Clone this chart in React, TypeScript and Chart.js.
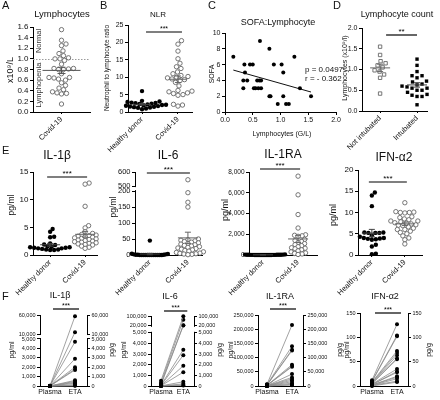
import React, { useEffect, useRef } from 'react';
import { Chart, registerables, LinearScale } from 'chart.js';

const FONT = "'Liberation Sans', Arial, Helvetica, sans-serif";

// ---------------- data ----------------
const lymphocyteCovid = [1.55, 1.35, 1.28, 1.25, 1.15, 1.1, 1.06, 1.02, 1.0, 1.0, 0.97, 0.9, 0.82, 0.82, 0.81, 0.8, 0.8, 0.72, 0.65, 0.65, 0.64, 0.62, 0.6, 0.55, 0.5, 0.45, 0.42, 0.38, 0.36, 0.35, 0.34, 0.15];
const nlrHealthy = [6.0, 3.2, 3.0, 2.9, 2.8, 2.7, 2.6, 2.5, 2.4, 2.3, 2.2, 2.1, 2.0, 2.0, 1.9, 1.8, 1.7, 1.6, 1.5, 1.4, 1.3, 1.2, 1.0, 0.8];
const nlrCovid = [20.5, 19.5, 17.5, 15.3, 14, 13, 12.5, 11.5, 11, 10.5, 10.2, 10, 9.8, 9.5, 9.3, 9, 8.5, 7.5, 6.2, 6, 5.8, 5.5, 5.3, 5, 4.8, 2.2, 2, 1.7];
const sofaLymph = [0.15, 0.35, 0.36, 0.33, 0.33, 0.4, 0.45, 0.5, 0.52, 0.55, 0.58, 0.6, 0.62, 0.65, 0.65, 0.63, 0.8, 0.8, 0.82, 0.88, 0.95, 1.02, 1.05, 1.05, 1.1, 1.15, 1.25, 1.35, 1.55];
const sofaScore = [7, 6, 5, 4, 3, 4, 6, 6, 3, 3, 4, 3, 4, 3, 4, 9, 8, 2, 2, 6, 1, 6, 5, 2, 1, 1, 7, 3, 2];
const sofaStats = ['p = 0.0497', 'r = - 0.362'];
const lymphNotIntubated = [1.55, 1.35, 1.2, 1.15, 1.1, 1.05, 0.98, 0.95, 0.88, 0.8, 0.42];
const lymphIntubated = [1.25, 1.1, 0.95, 0.85, 0.85, 0.8, 0.72, 0.7, 0.65, 0.63, 0.6, 0.6, 0.58, 0.55, 0.55, 0.5, 0.5, 0.45, 0.4, 0.38, 0.35, 0.35, 0.15];

const il1bHealthy = [4.7, 4.2, 3.3, 3.2, 2.1, 1.9, 1.8, 1.6, 1.5, 1.4, 1.4, 1.3, 1.3, 1.2, 1.2, 1.1, 1.0, 1.0, 0.9, 0.9];
const il1bCovid = [13.0, 12.8, 8.8, 5.3, 4.9, 4.2, 3.9, 3.7, 3.6, 3.5, 3.4, 3.3, 3.2, 3.1, 3.0, 2.9, 2.8, 2.7, 2.6, 2.5, 2.4, 2.3, 2.2, 2.1, 2.0, 1.9, 1.8, 1.6, 1.4, 1.2];
const il6Healthy = [45, 4, 3, 2, 2, 1, 1, 1, 0, 0, 0, 0, 0, 0, 0, 0, 0, 0, 0, 0];
const il6Covid = [545, 195, 165, 150, 50, 48, 46, 44, 42, 40, 38, 36, 34, 32, 30, 28, 26, 24, 22, 20, 18, 16, 14, 12, 10, 8, 6, 5, 4, 3, 2, 1];
const il1raHealthy = [60, 50, 40, 40, 30, 30, 20, 20, 20, 10, 10, 10, 10, 5, 5, 5, 0, 0, 0, 0, 0, 0];
const il1raCovid = [7600, 5800, 3900, 2600, 1950, 1900, 1850, 1800, 1500, 1400, 1300, 1200, 1100, 1000, 900, 800, 700, 650, 600, 500, 400, 300, 200, 150, 100, 50];
const ifnHealthy = [14.7, 14.0, 11.5, 5.3, 5.3, 5.2, 5.2, 5.2, 4.6, 4.3, 4.0, 4.0, 3.9, 3.8, 3.7, 3.6, 2.4, 2.0, 0.3, 0.2];
const ifnCovid = [12.3, 10.2, 10.1, 10.0, 10.0, 9.9, 9.0, 8.8, 8.5, 8.3, 8.0, 8.0, 7.8, 7.6, 7.5, 7.3, 7.1, 7.0, 6.9, 6.6, 6.3, 6.0, 6.0, 5.6, 5.3, 5.0, 4.5, 4.0, 3.6, 2.6];

const il1bPlasma = [20, 15, 10, 10, 5, 5, 5, 5, 0, 0, 0, 0, 0, 0];
const il1bEta = [57000, 15000, 4700, 2900, 2000, 1800, 1700, 600, 500, 400, 300, 150, 50, 20];
const il6Plasma = [500, 300, 200, 100, 80, 50, 30, 20, 10, 5, 0, 0];
const il6Eta = [97000, 70000, 25000, 22000, 3400, 2900, 1900, 1300, 400, 200, 100, 50];
const il1raPlasma = [6000, 5000, 4000, 3000, 2500, 2000, 1500, 1000, 800, 500, 300, 200, 100, 50, 0];
const il1raEta = [215000, 140000, 128000, 125000, 75000, 70000, 68000, 42000, 30000, 25000, 20000, 15000, 10000, 6000, 3000];
const ifnPlasma = [12, 10, 9, 8, 7, 6, 5, 5, 4, 3, 3, 2, 2, 1, 1, 0];
const ifnEta = [127, 104, 102, 72, 68, 63, 57, 55, 35, 30, 28, 20, 18, 15, 10, 8];

const groupLabels = ['Healthy donor', 'Covid-19'];
const covidLabel = ['Covid-19'];
const intubLabels = ['Not intubated', 'Intubated'];
const pairLabels = ['Plasma', 'ETA'];

const ticksA = [0, 0.2, 0.4, 0.6, 0.8, 1.0, 1.2, 1.4, 1.6];
const ticksB = [0, 5, 10, 15, 20, 25];
const ticksCx = [0, 0.5, 1.0, 1.5, 2.0];
const ticksCy = [0, 2, 4, 6, 8, 10];
const ticksD = [0, 0.5, 1.0, 1.5, 2.0];
const ticksE1 = [0, 5, 10, 15];
const ticksE6 = [0, 50, 100, 150, 200, 500, 600];
const ticksERA = [0, 2000, 4000, 6000, 8000];
const ticksEIFN = [0, 5, 10, 15, 20];
const ticksF1 = [0, 1000, 2000, 3000, 4000, 5000, 10000, 60000];
const ticksF6 = [0, 1000, 2000, 3000, 4000, 5000, 20000, 100000];
const ticksFRA = [0, 50000, 100000, 150000, 200000, 250000];
const ticksFIFN = [0, 50, 100, 150];

// axis breaks: [valueFrom, valueTo, fracFrom, fracTo]
const BREAKS: Record<string, number[][]> = {
  e6: [[0, 200, 0, 0.77], [500, 600, 0.83, 1]],
  f1: [[0, 5000, 0, 0.662], [10000, 60000, 0.732, 1]],
  f6: [[0, 5000, 0, 0.76], [20000, 100000, 0.86, 1]],
};

function brokenFrac(v: number, segs: number[][]) {
  for (let i = 0; i < segs.length; i++) {
    const [v0, v1, f0, f1] = segs[i];
    if (v <= v1 || i === segs.length - 1) {
      if (v < v0) return f0;
      return f0 + ((v - v0) / (v1 - v0)) * (f1 - f0);
    }
  }
  return 1;
}

class BrokenScale extends LinearScale {
  static id = 'broken';
  static defaults = {};
  getPixelForValue(value: any) {
    if (value === null || value === undefined || Number.isNaN(value)) return NaN;
    const segs = BREAKS[(this.options as any).brk];
    return this.getPixelForDecimal(brokenFrac(value, segs));
  }
}

Chart.register(...registerables, BrokenScale as any);
Chart.defaults.font.family = FONT;
Chart.defaults.color = '#111';

// ---------------- helpers ----------------
const fx1 = (v: number) => v.toFixed(1);
const fint = (v: number) => String(v);
const fcomma = (v: number) => v.toLocaleString('en-US');

function yFrac(v: number, y: any) {
  if (y.brk) return brokenFrac(v, BREAKS[y.brk]);
  return (v - y.min) / (y.max - y.min);
}

function swarm(vals: number[], center: number, spec: any, sep: number) {
  const box = spec.box;
  const kx = (box.x1 - box.x0) / (spec.xMax - spec.xMin);
  const h = box.y1 - box.y0;
  const order = vals.map((_, i) => i).sort((a, b) => vals[a] - vals[b]);
  const placed: any[] = [];
  const out: any[] = new Array(vals.length);
  for (const i of order) {
    const py = yFrac(vals[i], spec.y) * h;
    let dx = 0;
    for (let k = 0; k < 600; k++) {
      const c = k === 0 ? 0 : (k % 2 ? 1 : -1) * Math.ceil(k / 2) * 0.5;
      if (placed.every((p) => (p.dx - c) ** 2 + (p.py - py) ** 2 >= sep * sep)) { dx = c; break; }
    }
    placed.push({ dx, py });
    out[i] = { x: center + dx / kx, y: vals[i] };
  }
  return out;
}

function dotSet(vals: number[], center: number, spec: any, o: any) {
  return {
    type: 'scatter',
    data: swarm(vals, center, spec, o.sep || 4.4),
    pointStyle: o.style || 'circle',
    pointRadius: o.r || 2.2,
    pointBackgroundColor: o.filled ? '#000' : '#fff',
    pointBorderColor: o.filled ? '#000' : '#666',
    pointBorderWidth: o.filled ? 0 : 0.9,
    showLine: false,
    clip: false,
  };
}

function pairSets(plasma: number[], eta: number[]) {
  return plasma.map((p, i) => ({
    type: 'scatter',
    showLine: true,
    data: [{ x: 0, y: p }, { x: 1, y: eta[i] }],
    borderColor: '#8a8a8a',
    borderWidth: 0.8,
    pointRadius: 2,
    pointBackgroundColor: '#000',
    pointBorderWidth: 0,
    clip: false,
  }));
}

function decoPlugin(d: any) {
  return {
    id: 'deco',
    beforeDatasetsDraw(chart: any) {
      if (d.refY === undefined) return;
      const ctx = chart.ctx, ys = chart.scales.y, ca = chart.chartArea;
      const py = Math.round(ys.getPixelForValue(d.refY)) + 0.5;
      ctx.save();
      ctx.strokeStyle = '#9a9a9a'; ctx.lineWidth = 1; ctx.setLineDash([1.5, 1.5]);
      ctx.beginPath(); ctx.moveTo(ca.left, py); ctx.lineTo(ca.right, py); ctx.stroke();
      ctx.restore();
    },
    afterDatasetsDraw(chart: any) {
      const ctx = chart.ctx, xs = chart.scales.x, ys = chart.scales.y;
      ctx.save();
      for (const g of d.stats || []) {
        const vals: number[] = g.values;
        const n = vals.length;
        const m = vals.reduce((a, b) => a + b, 0) / n;
        const sd = Math.sqrt(vals.reduce((a, b) => a + (b - m) ** 2, 0) / (n - 1));
        const sem = sd / Math.sqrt(n);
        const cx = xs.getPixelForValue(g.x);
        const pm = ys.getPixelForValue(m), pt = ys.getPixelForValue(m + sem), pb = ys.getPixelForValue(Math.max(m - sem, 0));
        ctx.strokeStyle = g.color || '#555'; ctx.lineWidth = 1;
        ctx.beginPath();
        ctx.moveTo(cx - g.hw, pm); ctx.lineTo(cx + g.hw, pm);
        ctx.moveTo(cx, pt); ctx.lineTo(cx, pb);
        ctx.moveTo(cx - g.cap, pt); ctx.lineTo(cx + g.cap, pt);
        ctx.moveTo(cx - g.cap, pb); ctx.lineTo(cx + g.cap, pb);
        ctx.stroke();
      }
      if (d.sig) {
        const s = d.sig;
        const a = xs.getPixelForValue(s.a) + (s.da || 0), b = xs.getPixelForValue(s.b) + (s.db || 0);
        ctx.strokeStyle = '#000'; ctx.lineWidth = 1.2;
        ctx.beginPath(); ctx.moveTo(a, s.y); ctx.lineTo(b, s.y); ctx.stroke();
        ctx.fillStyle = '#000';
        ctx.font = `${s.size || 8}px ${FONT}`;
        ctx.textAlign = 'center'; ctx.textBaseline = 'alphabetic';
        ctx.fillText(s.text, (a + b) / 2, s.y - 1.5);
      }
      for (const id of Object.keys(chart.scales)) {
        const sc = chart.scales[id];
        const brk = sc.options.brk;
        if (!brk) continue;
        const segs = BREAKS[brk];
        const ax = sc.position === 'left' ? sc.right : sc.left;
        for (let i = 0; i < segs.length - 1; i++) {
          const yLow = sc.getPixelForDecimal(segs[i][3]);
          const yHigh = sc.getPixelForDecimal(segs[i + 1][2]);
          ctx.fillStyle = '#fff';
          ctx.fillRect(ax - 1.5, yHigh + 1, 3, yLow - yHigh - 2);
        }
      }
      ctx.restore();
    },
    afterDraw(chart: any) {
      const ctx = chart.ctx;
      ctx.save();
      for (const t of d.texts || []) {
        ctx.save();
        ctx.fillStyle = t.color || '#111';
        ctx.font = `${t.size || 8}px ${FONT}`;
        ctx.textAlign = t.align || 'center';
        ctx.textBaseline = 'middle';
        ctx.translate(t.x, t.y);
        if (t.rot) ctx.rotate((t.rot * Math.PI) / 180);
        ctx.fillText(t.t, 0, 0);
        ctx.restore();
      }
      ctx.restore();
    },
  };
}

function makeConfig(spec: any, datasets: any[], deco: any) {
  const box = spec.box;
  const YW = Math.min(box.x0, 34);
  const RW = spec.right ? 28 : 0;
  const XH = spec.xh ?? 50;
  const yScale = (pos: string) => ({
    type: spec.y.brk ? 'broken' : 'linear',
    brk: spec.y.brk,
    position: pos,
    min: spec.y.min,
    max: spec.y.max,
    border: { display: true, color: '#000', width: 1 },
    grid: { display: true, drawOnChartArea: false, drawTicks: true, tickLength: 3, color: '#000', lineWidth: 1 },
    ticks: { font: { size: spec.y.font, family: FONT }, color: '#111', padding: 1.5, autoSkip: false, callback: (v: number) => spec.y.fmt(v) },
    afterBuildTicks: (s: any) => { s.ticks = spec.y.ticks.map((v: number) => ({ value: v })); },
    afterFit: (s: any) => { s.width = pos === 'left' ? YW : RW; },
  });
  const scales: any = {
    x: {
      type: 'linear',
      position: 'bottom',
      min: spec.xMin,
      max: spec.xMax,
      border: { display: true, color: '#000', width: 1 },
      grid: { display: true, drawOnChartArea: false, drawTicks: true, tickLength: spec.xTickLen ?? 2, color: '#000', lineWidth: 1 },
      ticks: {
        font: { size: spec.xFont, family: FONT }, color: '#111', padding: spec.xPad ?? 1, autoSkip: false,
        minRotation: spec.xRot, maxRotation: spec.xRot,
        callback: (v: number, i: number) => (spec.xLabels ? spec.xLabels[i] : spec.xFmt(v)),
      },
      afterBuildTicks: (s: any) => { s.ticks = spec.xTicks.map((v: number) => ({ value: v })); },
      afterFit: (s: any) => { s.height = XH; },
    },
    y: yScale('left'),
  };
  if (spec.right) scales.y2 = yScale('right');
  return {
    type: 'scatter',
    data: { datasets },
    options: {
      responsive: false,
      animation: false,
      events: [],
      layout: { padding: { left: box.x0 - YW, top: box.y0, right: 440 - box.x1 - RW, bottom: 400 - box.y1 - XH } },
      plugins: { legend: { display: false }, tooltip: { enabled: false }, title: { display: false } },
      scales,
    },
    plugins: [decoPlugin(deco)],
  };
}

// ---------------- panels ----------------
function buildConfigs() {
  const cfgs: any[] = [];

  // A
  {
    const spec = { box: { x0: 33, x1: 90, y0: 27, y1: 112 }, xMin: -1, xMax: 1, xTicks: [0], xLabels: covidLabel, xRot: 45, xFont: 7.5,
      y: { min: 0, max: 1.6, ticks: ticksA, fmt: fx1, font: 8 } };
    cfgs.push(makeConfig(spec, [dotSet(lymphocyteCovid, 0, spec, { filled: false, sep: 4.6 })], {
      refY: 1.0,
      stats: [{ x: 0, values: lymphocyteCovid, hw: 19, cap: 4, color: '#555' }],
      texts: [
        { t: 'A', x: 2, y: 6, size: 11, align: 'left' },
        { t: 'Lymphocytes', x: 62, y: 14, size: 9.5 },
        { t: 'x10⁹/L', x: 11, y: 70, size: 9, rot: -90 },
        { t: 'Normal', x: 39, y: 41, size: 7.5, rot: -90, color: '#333' },
        { t: 'Lymphopenia', x: 39, y: 85, size: 7.5, rot: -90, color: '#333' },
      ],
    }));
  }
  // B
  {
    const spec = { box: { x0: 128, x1: 192, y0: 25, y1: 112 }, xMin: -0.39, xMax: 1.39, xTicks: [0, 1], xLabels: groupLabels, xRot: 45, xFont: 7.5,
      y: { min: 0, max: 25, ticks: ticksB, fmt: fint, font: 7 } };
    cfgs.push(makeConfig(spec, [
      dotSet(nlrHealthy, 0, spec, { filled: true, sep: 4 }),
      dotSet(nlrCovid, 1, spec, { filled: false, sep: 4.6 }),
    ], {
      stats: [{ x: 0, values: nlrHealthy, hw: 9, cap: 3, color: '#444' }, { x: 1, values: nlrCovid, hw: 9, cap: 3, color: '#666' }],
      sig: { a: 0, b: 1, da: 4, db: 4, y: 32, text: '***', size: 7 },
      texts: [
        { t: 'B', x: 100, y: 6, size: 11, align: 'left' },
        { t: 'NLR', x: 158, y: 15, size: 8 },
        { t: 'Neutrophil to lymphocyte ratio', x: 107, y: 68, size: 6.5, rot: -90 },
      ],
    }));
  }
  // C
  {
    const spec = { box: { x0: 225, x1: 336, y0: 33, y1: 112 }, xMin: 0, xMax: 2, xTicks: ticksCx, xFmt: fx1, xRot: 0, xFont: 7, xTickLen: 3,
      y: { min: 0, max: 10, ticks: ticksCy, fmt: fint, font: 7 } };
    const n = sofaLymph.length;
    const mx = sofaLymph.reduce((a, b) => a + b, 0) / n;
    const my = sofaScore.reduce((a, b) => a + b, 0) / n;
    let sxy = 0, sxx = 0;
    for (let i = 0; i < n; i++) { sxy += (sofaLymph[i] - mx) * (sofaScore[i] - my); sxx += (sofaLymph[i] - mx) ** 2; }
    const slope = sxy / sxx, icpt = my - slope * mx;
    const xmin = Math.min(...sofaLymph), xmax = Math.max(...sofaLymph);
    cfgs.push(makeConfig(spec, [
      { type: 'scatter', data: sofaLymph.map((x, i) => ({ x, y: sofaScore[i] })), pointRadius: 2, pointBackgroundColor: '#000', pointBorderWidth: 0, clip: false },
      { type: 'scatter', showLine: true, data: [{ x: xmin, y: icpt + slope * xmin }, { x: xmax, y: icpt + slope * xmax }], borderColor: '#111', borderWidth: 1, pointRadius: 0 },
    ], {
      texts: [
        { t: 'C', x: 208, y: 6, size: 11, align: 'left' },
        { t: 'SOFA:Lymphocyte', x: 278, y: 23, size: 9 },
        { t: 'SOFA', x: 212, y: 74, size: 7, rot: -90 },
        { t: 'Lymphocytes (G/L)', x: 282, y: 134, size: 7 },
        { t: sofaStats[0], x: 305, y: 70, size: 8, align: 'left' },
        { t: sofaStats[1], x: 305, y: 79, size: 8, align: 'left' },
      ],
    }));
  }
  // D
  {
    const spec = { box: { x0: 362, x1: 427, y0: 28, y1: 111 }, xMin: -0.49, xMax: 1.27, xTicks: [0, 1], xLabels: intubLabels, xRot: 45, xFont: 7.5,
      y: { min: 0, max: 2, ticks: ticksD, fmt: fx1, font: 7 } };
    cfgs.push(makeConfig(spec, [
      dotSet(lymphNotIntubated, 0, spec, { filled: false, style: 'rect', r: 2.4, sep: 5 }),
      dotSet(lymphIntubated, 1, spec, { filled: true, style: 'rect', r: 2.4, sep: 5 }),
    ], {
      stats: [{ x: 0, values: lymphNotIntubated, hw: 10, cap: 3, color: '#666' }, { x: 1, values: lymphIntubated, hw: 10, cap: 3, color: '#444' }],
      sig: { a: 0, b: 1, da: 6, db: 0, y: 35, text: '**', size: 8 },
      texts: [
        { t: 'D', x: 333, y: 6, size: 11, align: 'left' },
        { t: 'Lymphocyte count', x: 397, y: 15, size: 9 },
        { t: 'Lymphocytes (x10⁹/l)', x: 345, y: 68, size: 7, rot: -90 },
      ],
    }));
  }

  // E row
  const eRow = (box: any, xMin: number, xMax: number, y: any, h: number[], c: number[], sepH: number, sepC: number, sigY: number, texts: any[]) => {
    const spec = { box, xMin, xMax, xTicks: [0, 1], xLabels: groupLabels, xRot: 45, xFont: 7.5, y };
    return makeConfig(spec, [
      dotSet(h, 0, spec, { filled: true, sep: sepH }),
      dotSet(c, 1, spec, { filled: false, sep: sepC }),
    ], {
      stats: [{ x: 0, values: h, hw: 10, cap: 3, color: '#444' }, { x: 1, values: c, hw: 10, cap: 3, color: '#666' }],
      sig: { a: 0, b: 1, da: -3, db: 2, y: sigY, text: '***', size: 8 },
      texts,
    });
  };
  cfgs.push(eRow({ x0: 33, x1: 97, y0: 172, y1: 255 }, -0.49, 1.34, { min: 0, max: 15, ticks: ticksE1, fmt: fint, font: 8 },
    il1bHealthy, il1bCovid, 3.6, 3.8, 177, [
      { t: 'E', x: 2, y: 151, size: 11, align: 'left' },
      { t: 'IL-1β', x: 57, y: 156, size: 12 },
      { t: 'pg/ml', x: 12, y: 205, size: 8.5, rot: -90 },
    ]));
  cfgs.push(eRow({ x0: 135, x1: 202, y0: 172, y1: 255 }, -0.39, 1.37, { min: 0, max: 600, ticks: ticksE6, brk: 'e6', fmt: fint, font: 7.5 },
    il6Healthy, il6Covid, 1.8, 3.6, 173, [
      { t: 'IL-6', x: 168, y: 156, size: 12 },
      { t: 'pg/ml', x: 114, y: 207, size: 8.5, rot: -90 },
    ]));
  cfgs.push(eRow({ x0: 249, x1: 317, y0: 172, y1: 255 }, -0.4, 1.54, { min: 0, max: 8000, ticks: ticksERA, fmt: fcomma, font: 6.5 },
    il1raHealthy, il1raCovid, 1.8, 3.6, 169, [
      { t: 'IL-1RA', x: 283, y: 155, size: 12 },
      { t: 'pg/ml', x: 226, y: 210, size: 9, rot: -90 },
    ]));
  cfgs.push(eRow({ x0: 358, x1: 422, y0: 170, y1: 255 }, -0.42, 1.52, { min: 0, max: 20, ticks: ticksEIFN, fmt: fint, font: 8 },
    ifnHealthy, ifnCovid, 4, 4.2, 182, [
      { t: 'IFN-α2', x: 394, y: 158, size: 12 },
      { t: 'pg/ml', x: 334, y: 215, size: 9, rot: -90 },
    ]));

  // F row
  const fRow = (box: any, xMin: number, xMax: number, y: any, plasma: number[], eta: number[], sigY: number, texts: any[]) => {
    const spec = { box, xMin, xMax, xTicks: [0, 1], xLabels: pairLabels, xRot: 0, xFont: 7, xTickLen: 0, xPad: 2, xh: 13, y, right: true };
    return makeConfig(spec, pairSets(plasma, eta), {
      sig: { a: 0, b: 1, da: 3, db: 4, y: sigY, text: '***', size: 7 },
      texts,
    });
  };
  cfgs.push(fRow({ x0: 40, x1: 87, y0: 315, y1: 386 }, -0.4, 1.48, { min: 0, max: 60000, ticks: ticksF1, brk: 'f1', fmt: fcomma, font: 5.5 },
    il1bPlasma, il1bEta, 309, [
      { t: 'F', x: 2, y: 297, size: 11, align: 'left' },
      { t: 'IL-1β', x: 60, y: 296, size: 9 },
      { t: 'pg/ml', x: 12, y: 350, size: 7, rot: -90 },
      { t: 'pg/g', x: 112, y: 350, size: 7, rot: -90 },
    ]));
  cfgs.push(fRow({ x0: 151, x1: 194, y0: 316, y1: 386 }, -0.45, 1.48, { min: 0, max: 100000, ticks: ticksF6, brk: 'f6', fmt: fcomma, font: 5.5 },
    il6Plasma, il6Eta, 311, [
      { t: 'IL-6', x: 170, y: 297, size: 9 },
      { t: 'pg/ml', x: 124, y: 350, size: 7, rot: -90 },
      { t: 'pg/g', x: 220, y: 350, size: 7, rot: -90 },
    ]));
  cfgs.push(fRow({ x0: 258, x1: 303, y0: 315, y1: 386 }, -0.36, 1.44, { min: 0, max: 250000, ticks: ticksFRA, fmt: fcomma, font: 5.5 },
    il1raPlasma, il1raEta, 309, [
      { t: 'IL-1RA', x: 280, y: 297, size: 9 },
      { t: 'pg/ml', x: 231, y: 350, size: 7, rot: -90 },
      { t: 'pg/g', x: 340, y: 350, size: 7, rot: -90 },
    ]));
  cfgs.push(fRow({ x0: 360, x1: 408, y0: 313, y1: 386 }, -0.48, 1.44, { min: 0, max: 150, ticks: ticksFIFN, fmt: fint, font: 5.5 },
    ifnPlasma, ifnEta, 313, [
      { t: 'IFN-α2', x: 385, y: 297, size: 9 },
      { t: 'pg/ml', x: 347, y: 350, size: 7, rot: -90 },
      { t: 'pg/g', x: 429, y: 350, size: 7, rot: -90 },
    ]));
  return cfgs;
}

function Layer({ config }: { config: any }) {
  const ref = useRef<HTMLCanvasElement>(null);
  useEffect(() => {
    const chart = new Chart(ref.current as HTMLCanvasElement, config);
    return () => chart.destroy();
  }, [config]);
  return (
    <canvas ref={ref} width={440} height={400}
      style={{ position: 'absolute', left: 0, top: 0, width: 440, height: 400 }} />
  );
}

const CONFIGS = buildConfigs();

export default function App() {
  return (
    <div style={{ position: 'absolute', left: 0, top: 0, width: 440, height: 400, background: '#fff', overflow: 'hidden' }}>
      {CONFIGS.map((c, i) => <Layer key={i} config={c} />)}
    </div>
  );
}
